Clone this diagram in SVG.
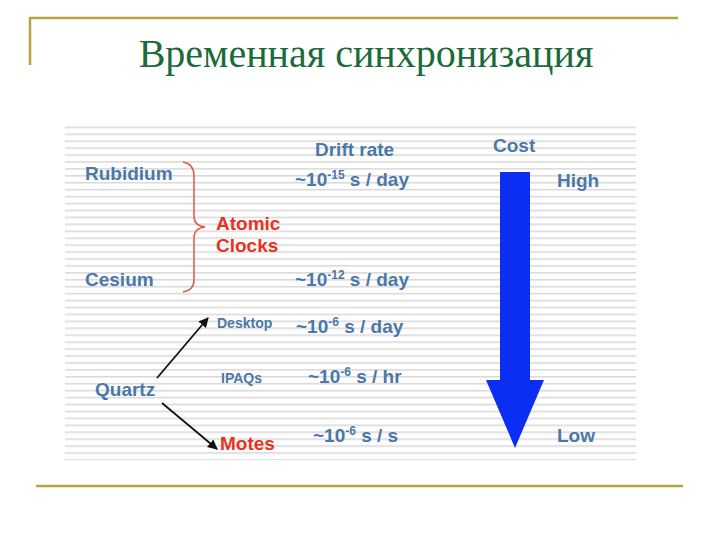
<svg xmlns="http://www.w3.org/2000/svg" width="720" height="540" viewBox="0 0 720 540">
  <defs>
    <pattern id="stripes" x="0" y="126.5" width="8" height="6.93" patternUnits="userSpaceOnUse">
      <rect x="0" y="0" width="8" height="1.6" fill="#DADADA"/>
    </pattern>
    <marker id="arr" viewBox="0 0 10 10" refX="9" refY="5" markerWidth="10" markerHeight="10" markerUnits="userSpaceOnUse" orient="auto">
      <path d="M0,0 L10,5 L0,10 Z" fill="#111"/>
    </marker>
  </defs>
  <style>
    .t { font-family: "Liberation Sans", Arial, sans-serif; font-weight: bold; fill: #4A78A8; font-size: 19px; }
    .sm { font-size: 14px; }
    .red { fill: #E8321E; }
    .sup { font-size: 12px; }
    .frame { stroke: #B9A445; stroke-width: 2.5; fill: none; }
  </style>
  <rect width="720" height="540" fill="#FFFFFF"/>
  <g id="frame">
    <path class="frame" d="M30,65 V18 H678"/>
    <line class="frame" x1="36" y1="486" x2="683" y2="486"/>
  </g>
  <text id="title" x="366" y="67" text-anchor="middle" font-family="'Liberation Serif', 'Times New Roman', serif" font-size="40" fill="#1B6B3A">Временная синхронизация</text>
  <rect id="panel" x="65" y="125" width="571" height="335" fill="url(#stripes)"/>

  <g id="headers">
    <text class="t" x="315" y="156">Drift rate</text>
    <text class="t" x="493" y="152">Cost</text>
  </g>
  <g id="rubidium"><text class="t" x="85" y="180">Rubidium</text></g>
  <g id="cesium"><text class="t" x="85" y="286">Cesium</text></g>
  <g id="atomic">
    <text class="t red" x="216" y="230">Atomic</text>
    <text class="t red" x="216" y="252">Clocks</text>
  </g>
  <g id="quartz"><text class="t" x="95" y="396">Quartz</text></g>
  <g id="desktop"><text class="t sm" x="217" y="328">Desktop</text></g>
  <g id="ipaqs"><text class="t sm" x="221" y="383">IPAQs</text></g>
  <g id="motes"><text class="t red" x="220" y="450">Motes</text></g>

  <g id="rates">
    <text class="t" x="295" y="186">~10<tspan class="sup" dy="-7">-15</tspan><tspan dy="7"> s / day</tspan></text>
    <text class="t" x="295" y="286">~10<tspan class="sup" dy="-7">-12</tspan><tspan dy="7"> s / day</tspan></text>
    <text class="t" x="296" y="333">~10<tspan class="sup" dy="-7">-6</tspan><tspan dy="7"> s / day</tspan></text>
    <text class="t" x="308" y="383">~10<tspan class="sup" dy="-7">-6</tspan><tspan dy="7"> s / hr</tspan></text>
    <text class="t" x="313" y="442">~10<tspan class="sup" dy="-7">-6</tspan><tspan dy="7"> s / s</tspan></text>
  </g>
  <g id="costs">
    <text class="t" x="557" y="187">High</text>
    <text class="t" x="557" y="442">Low</text>
  </g>

  <g id="connectors">
    <path d="M183,162 Q194,164 194,176 V216 Q194,226 205,227 Q194,228 194,238 V280 Q194,290 183,292" fill="none" stroke="#E0584A" stroke-width="1.5"/>
    <line x1="157" y1="378" x2="208" y2="318" stroke="#111" stroke-width="1.8" marker-end="url(#arr)"/>
    <line x1="162" y1="403" x2="217" y2="449" stroke="#111" stroke-width="1.8" marker-end="url(#arr)"/>
    <path id="costArrow" d="M500,172 H530 V380 H544 L515,448 L486,380 H500 Z" fill="#0C2EF4"/>
  </g>
</svg>
